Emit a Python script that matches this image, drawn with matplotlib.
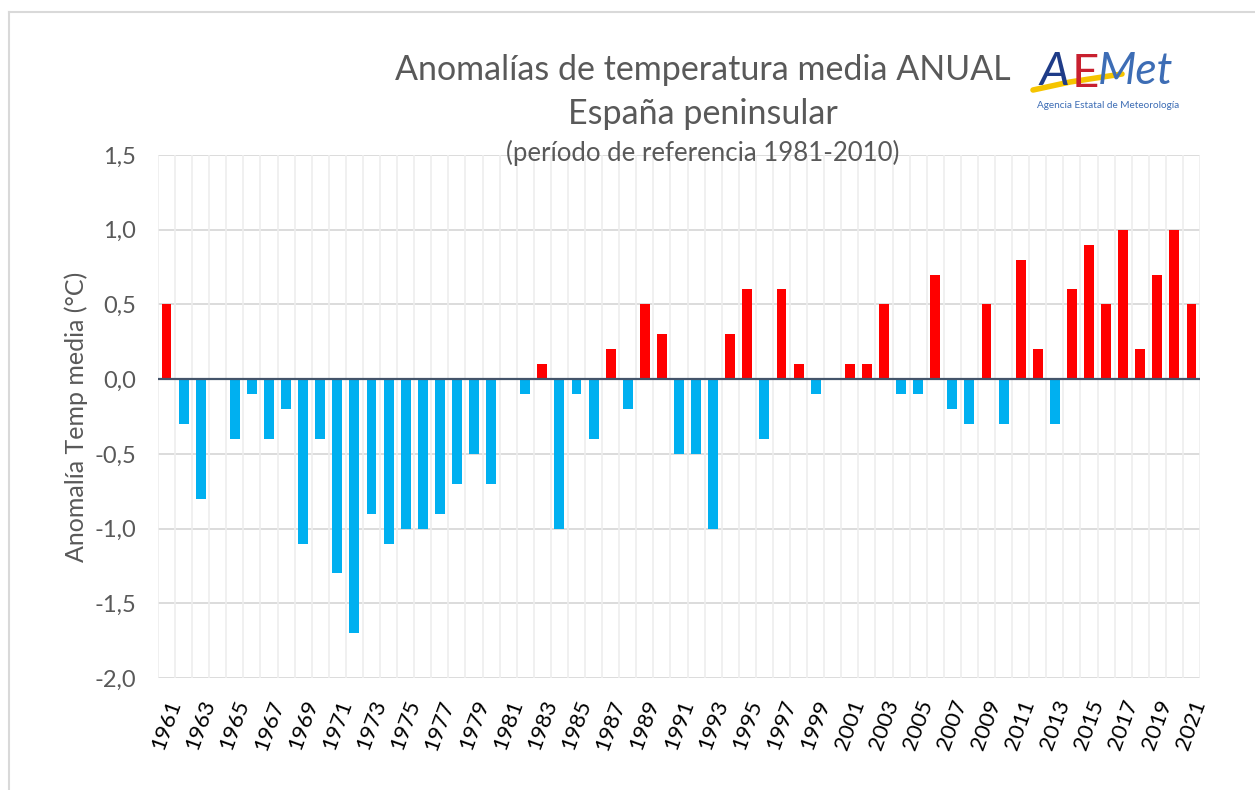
import numpy as np
import matplotlib.pyplot as plt
from matplotlib.lines import Line2D

plt.rcParams['font.family'] = ['Lato', 'DejaVu Sans']

years = list(range(1961, 2022))
anomalies = [
    0.5, -0.3, -0.8, 0.0, -0.4, -0.1, -0.4, -0.2, -1.1, -0.4,   # 1961-1970
    -1.3, -1.7, -0.9, -1.1, -1.0, -1.0, -0.9, -0.7, -0.5, -0.7,  # 1971-1980
    0.0, -0.1, 0.1, -1.0, -0.1, -0.4, 0.2, -0.2, 0.5, 0.3,       # 1981-1990
    -0.5, -0.5, -1.0, 0.3, 0.6, -0.4, 0.6, 0.1, -0.1, 0.0,       # 1991-2000
    0.1, 0.1, 0.5, -0.1, -0.1, 0.7, -0.2, -0.3, 0.5, -0.3,       # 2001-2010
    0.8, 0.2, -0.3, 0.6, 0.9, 0.5, 1.0, 0.2, 0.7, 1.0,           # 2011-2020
    0.5,                                                         # 2021
]
yticks = [-2.0, -1.5, -1.0, -0.5, 0.0, 0.5, 1.0, 1.5]
ytick_labels = [f"{v:.1f}".replace('.', ',') for v in yticks]

title1 = "Anomalías de temperatura media ANUAL"
title2 = "España peninsular"
subtitle = "(período de referencia 1981-2010)"
ylabel = "Anomalía Temp media (°C)"

W, H = 1255, 790
fig = plt.figure(figsize=(W / 100, H / 100), dpi=100)
ax = fig.add_axes([158 / W, 1 - 678 / H, (1200 - 158) / W, (678 - 155) / H])

x = np.arange(len(years))
colors = ['#FF0000' if v > 0 else '#00B0F0' for v in anomalies]
ax.bar(x, anomalies, width=0.58, color=colors, zorder=3)

ax.set_xlim(-0.5, len(years) - 0.5)
ax.set_ylim(-2.0, 1.5)

# gridlines: horizontal at ticks, vertical at each category boundary
for v in yticks:
    ax.axhline(v, color='#D9D9D9', lw=1.3, zorder=1)
for b in np.arange(-0.5, len(years), 1):
    ax.axvline(b, color='#EDEDED', lw=1.2, zorder=1)
ax.axhline(0, color='#44546A', lw=1.6, zorder=4)

for s in ax.spines.values():
    s.set_visible(False)

ax.set_yticks(yticks)
ax.set_yticklabels(ytick_labels, fontsize=17, color='#595959')
ax.set_xticks(x[::2])
ax.set_xticklabels([str(y) for y in years[::2]], rotation=70, fontsize=16,
                   color='#000000', ha='center', va='top')
ax.tick_params(axis='both', length=0)
ax.tick_params(axis='y', pad=16)
ax.tick_params(axis='x', pad=14)

ax.set_ylabel(ylabel, fontsize=18, color='#595959', labelpad=4)

fig.text(703 / W, 1 - 70 / H, title1, fontsize=24.5, color='#595959', ha='center', va='center')
fig.text(703 / W, 1 - 114 / H, title2, fontsize=24.5, color='#595959', ha='center', va='center')
fig.text(703 / W, 1 - 153 / H, subtitle, fontsize=18.5, color='#595959', ha='center', va='center')

# AEMET logo, drawn with text
fig.text(1040 / W, 1 - 72 / H, "A", fontsize=34, color='#1F3C88', style='italic', va='center')
fig.text(1072 / W, 1 - 74 / H, "E", fontsize=34, color='#C8202F', va='center')
fig.text(1098 / W, 1 - 72 / H, "Met", fontsize=32, color='#3D6DB5', style='italic', va='center')
fig.add_artist(Line2D([1033 / W, 1070 / W, 1122 / W], [1 - 90 / H, 1 - 82 / H, 1 - 74 / H],
                      color='#F5C400', lw=4, solid_capstyle='round'))
fig.text(1108 / W, 1 - 106 / H, "Agencia Estatal de Meteorología", fontsize=7.2,
         color='#3D6DB5', ha='center', va='center')

# outer chart-area border (left and top edges visible)
fig.add_artist(Line2D([9 / W, 9 / W], [0, 1 - 12 / H], color='#D9D9D9', lw=1.5))
fig.add_artist(Line2D([9 / W, 1], [1 - 12 / H, 1 - 12 / H], color='#D9D9D9', lw=1.5))

fig.savefig('out.png', dpi=100, facecolor='white')
